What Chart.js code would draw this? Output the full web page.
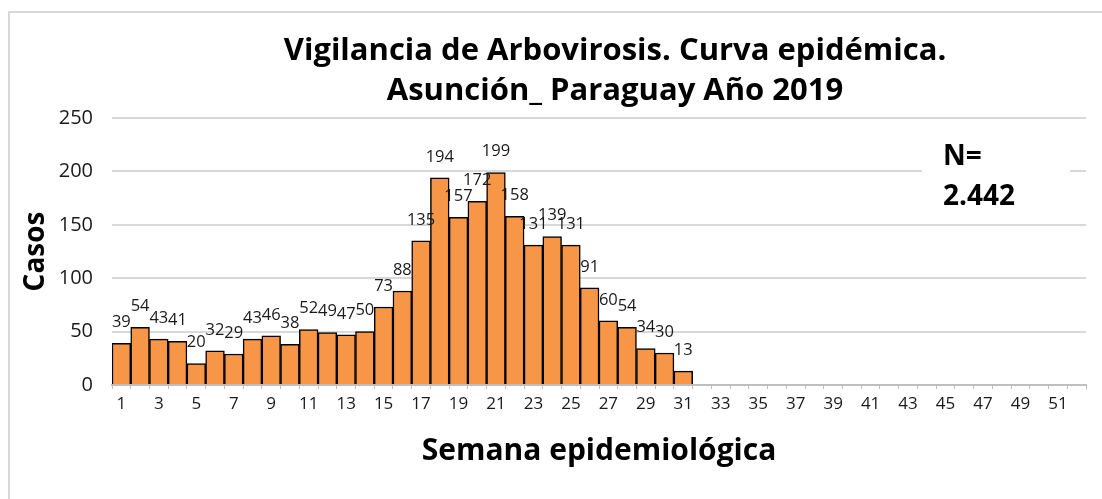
<!DOCTYPE html>
<html>
<head>
<meta charset="utf-8">
<script src="https://cdn.jsdelivr.net/npm/chart.js@4.4.1/dist/chart.umd.min.js"></script>
<style>
  html, body { margin:0; padding:0; background:#fff; overflow:hidden; }
  #wrap { position:relative; width:1102px; height:499px; }
  #frame { position:absolute; left:8px; top:11px; width:1200px; height:600px; border:2px solid #d9d9d9; box-sizing:border-box; }
  canvas { position:absolute; left:0; top:0; }
</style>
</head>
<body>
<div id="wrap">
  <div id="frame"></div>
  <canvas id="c" width="1102" height="499"></canvas>
</div>
<script>
// ---- data ----
const weeks = [];
for (let w = 1; w <= 52; w++) weeks.push(String(w));
const cases = [39,54,43,41,20,32,29,43,46,38,52,49,47,50,73,88,135,194,157,172,199,158,131,139,131,91,60,54,34,30,13];
const yTicks = [0,50,100,150,200,250];
const titleLines = ['Vigilancia de Arbovirosis. Curva epidémica.', 'Asunción_ Paraguay Año 2019'];
const xTitle = 'Semana epidemiológica';
const yTitle = 'Casos';
const noteLines = ['N=', '2.442'];

const FONT = '"Open Sans", "Noto Sans", sans-serif';

const textPlugin = {
  id: 'texts',
  afterDraw(chart) {
    const ctx = chart.ctx;
    const ca = chart.chartArea;
    ctx.save();
    ctx.fillStyle = '#000';
    ctx.font = 'bold 31px ' + FONT;
    ctx.textAlign = 'center';
    ctx.textBaseline = 'middle';
    ctx.fillText(titleLines[0], 615, 51);
    ctx.fillText(titleLines[1], 615, 91);
    ctx.font = 'bold 30px ' + FONT;
    ctx.fillText(xTitle, (ca.left + ca.right) / 2, 451);
    ctx.save();
    ctx.translate(36, (ca.top + ca.bottom) / 2);
    ctx.rotate(-Math.PI / 2);
    ctx.font = 'bold 28px ' + FONT;
    ctx.fillText(yTitle, 0, 0);
    ctx.restore();
    ctx.fillStyle = '#fff';
    ctx.fillRect(922, 138, 148, 78);
    ctx.fillStyle = '#000';
    ctx.font = 'bold 28px ' + FONT;
    ctx.textAlign = 'left';
    ctx.fillText(noteLines[0], 943, 157);
    ctx.fillText(noteLines[1], 943, 197);
    ctx.restore();
  }
};

const labelPlugin = {
  id: 'barLabels',
  afterDatasetsDraw(chart) {
    const ctx = chart.ctx;
    const meta = chart.getDatasetMeta(0);
    ctx.save();
    ctx.font = '16.5px ' + FONT;
    ctx.fillStyle = '#1a1a1a';
    ctx.textAlign = 'center';
    ctx.textBaseline = 'middle';
    meta.data.forEach((bar, i) => {
      const v = chart.data.datasets[0].data[i];
      if (v == null) return;
      ctx.fillText(String(v), bar.x, bar.y - 21);
    });
    ctx.restore();
  }
};

new Chart(document.getElementById('c'), {
  type: 'bar',
  data: {
    labels: weeks,
    datasets: [{
      data: cases,
      backgroundColor: '#F79646',
      borderColor: '#000',
      borderWidth: 1.5,
      barPercentage: 1,
      categoryPercentage: 1
    }]
  },
  options: {
    responsive: false,
    animation: false,
    events: [],
    layout: { padding: { top: 118, right: 16, bottom: 0, left: 0 } },
    plugins: { legend: { display: false }, tooltip: { enabled: false }, title: { display: false } },
    scales: {
      x: {
        offset: true,
        grid: { display: true, drawOnChartArea: false, offset: true, color: '#bfbfbf', tickLength: 4, lineWidth: 1 },
        border: { display: true, color: '#bfbfbf', width: 2 },
        ticks: {
          autoSkip: false, maxRotation: 0, minRotation: 0, padding: 5,
          color: '#1a1a1a', font: { family: FONT, size: 17 },
          callback: function(val, idx) { return (idx % 2 === 0) ? weeks[idx] : ''; }
        },
        afterFit(scale) { scale.height = 499 - 385; }
      },
      y: {
        min: 0, max: 250,
        afterBuildTicks(scale) { scale.ticks = yTicks.map(v => ({ value: v })); },
        grid: { color: '#d9d9d9', lineWidth: 2, drawTicks: false },
        border: { display: false },
        ticks: { padding: 19, color: '#1a1a1a', font: { family: FONT, size: 20 } },
        afterFit(scale) { scale.width = 112; }
      }
    }
  },
  plugins: [textPlugin, labelPlugin]
});
</script>
</body>
</html>
